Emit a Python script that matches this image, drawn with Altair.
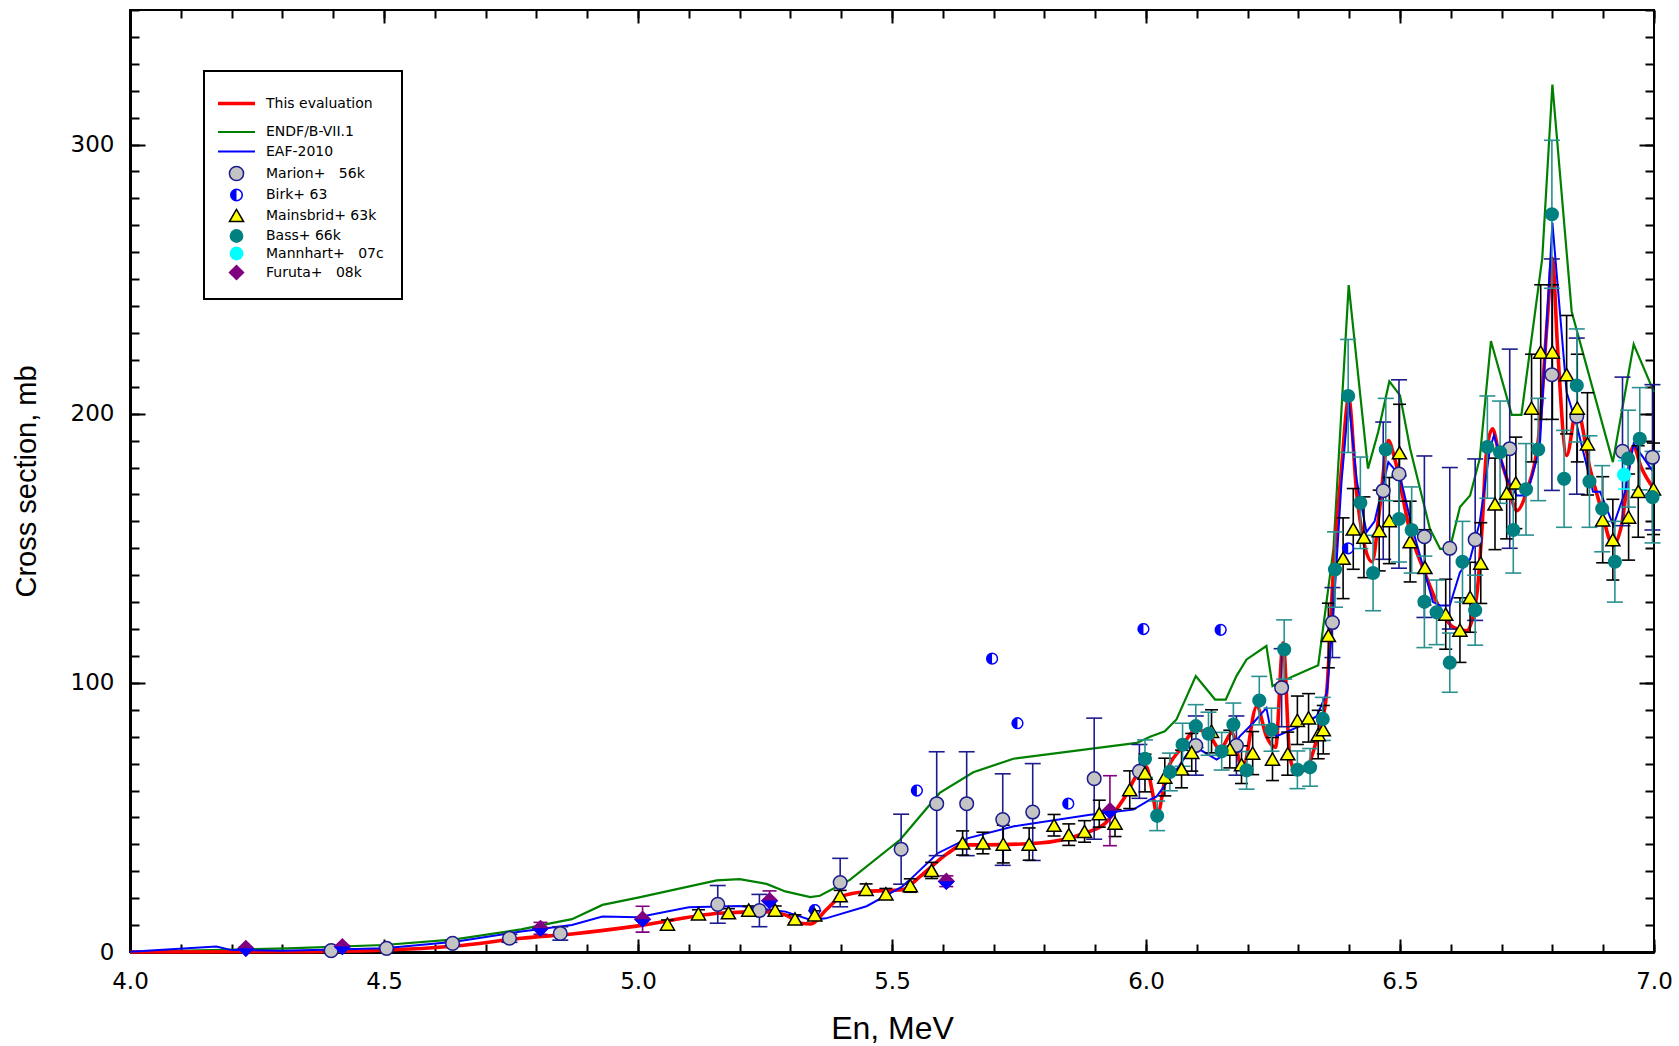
import altair as alt
import pandas as pd

# ---------------- data ----------------
# This evaluation (red curve)
eval_E = [4.00, 4.30, 4.50, 4.64, 4.77, 4.87, 5.00, 5.16, 5.25, 5.29, 5.32, 5.34, 5.37, 5.40, 5.45, 5.52,
          5.555, 5.61, 5.64, 5.68, 5.79, 5.88, 5.92, 5.955, 5.99, 6.00, 6.012, 6.022, 6.04, 6.067, 6.10,
          6.126, 6.146, 6.169, 6.19, 6.218, 6.237, 6.255, 6.27, 6.283, 6.296, 6.315, 6.336, 6.355, 6.368,
          6.385, 6.399, 6.415, 6.445, 6.46, 6.477, 6.49, 6.52, 6.546, 6.579, 6.605, 6.631, 6.651, 6.661,
          6.67, 6.682, 6.695, 6.71, 6.73, 6.749, 6.775, 6.79, 6.80, 6.81, 6.828, 6.848, 6.874, 6.894,
          6.92, 6.936, 6.959, 6.975, 7.00]
eval_S = [0.0, 0.1, 0.7, 2.2, 5.1, 6.7, 9.7, 14.4, 15.0, 13.8, 10.7, 10.4, 15.6, 20.6, 22.5, 23.1,
          28.0, 36.7, 39.8, 39.8, 40.5, 44.2, 47.9, 56.6, 67.8, 69.0, 60.0, 51.0, 66.5, 75.2, 82.6,
          80.2, 75.2, 81.4, 67.7, 91.3, 80.2, 76.0, 114.9, 72.7, 66.5, 68.0, 78.9, 95.0, 138.5,
          180.0, 205.6, 170.0, 145.0, 165.0, 190.0, 183.0, 156.0, 142.3, 127.4, 120.6, 119.3, 132.4, 156.0,
          185.0, 194.4, 185.0, 176.0, 164.0, 170.9, 195.0, 235.0, 257.7, 225.0, 184.5, 201.8, 179.6, 166.0,
          151.0, 158.4, 188.0, 180.0, 172.0]

# ENDF/B-VII.1 (green curve)
endf_E = [4.00, 4.31, 4.50, 4.64, 4.77, 4.83, 4.87, 4.93, 5.00, 5.155, 5.20, 5.253, 5.29, 5.339, 5.358,
          5.417, 5.516, 5.594, 5.66, 5.739, 5.982, 6.008, 6.037, 6.06, 6.098, 6.136, 6.157, 6.178, 6.198,
          6.237, 6.249, 6.29, 6.339, 6.369, 6.399, 6.437, 6.457, 6.479, 6.50, 6.52, 6.559, 6.579, 6.598,
          6.618, 6.638, 6.657, 6.679, 6.72, 6.739, 6.78, 6.80, 6.838, 6.919, 6.96, 7.00]
endf_S = [0.1, 1.35, 2.6, 4.7, 8.4, 10.7, 12.2, 17.5, 20.2, 26.6, 27.1, 25.3, 22.5, 20.4, 20.9,
          26.8, 41.7, 59.1, 66.8, 71.8, 77.7, 80.0, 82.0, 86.4, 102.5, 93.8, 93.8, 102.5, 108.7,
          113.7, 98.8, 102.5, 106.5, 149.8, 247.8, 179.6, 193.2, 212.0, 206.8, 187.0, 157.2, 149.8, 149.8,
          165.3, 169.6, 183.3, 227.0, 199.6, 199.6, 257.7, 322.3, 237.9, 182.0, 225.8, 208.0]

# EAF-2010 (blue curve)
eaf_E = [4.00, 4.17, 4.20, 4.30, 4.50, 4.64, 4.77, 4.87, 4.93, 5.00, 5.10, 5.20, 5.29, 5.34, 5.37,
         5.45, 5.52, 5.535, 5.59, 5.65, 5.74, 5.89, 5.975, 6.008, 6.021, 6.06, 6.087, 6.106, 6.139, 6.159,
         6.185, 6.211, 6.237, 6.244, 6.257, 6.303, 6.336, 6.356, 6.369, 6.385, 6.399, 6.415, 6.434, 6.45,
         6.477, 6.50, 6.523, 6.565, 6.579, 6.598, 6.618, 6.638, 6.657, 6.677, 6.685, 6.71, 6.73, 6.749,
         6.775, 6.80, 6.828, 6.848, 6.88, 6.894, 6.92, 6.943, 6.96, 7.00]
eaf_S = [0.1, 2.0, 0.7, 0.5, 1.35, 3.8, 7.6, 10.0, 13.2, 12.9, 16.6, 17.1, 15.0, 11.9, 12.5,
         17.0, 24.3, 26.8, 36.7, 42.3, 46.7, 51.0, 52.9, 56.6, 57.8, 67.7, 75.2, 75.2, 71.5, 73.9,
         80.2, 85.1, 90.7, 83.9, 80.2, 83.9, 87.6, 96.3, 126.1, 175.0, 205.0, 175.0, 156.0, 160.0,
         182.0, 177.0, 158.4, 130.0, 128.7, 128.7, 141.0, 146.0, 159.7, 187.0, 192.0, 175.8, 169.6, 169.6,
         187.0, 271.0, 208.0, 195.7, 171.0, 171.0, 158.4, 171.0, 188.8, 178.0]

# Marion+ 56k
marion_E = [4.396, 4.505, 4.635, 4.747, 4.847, 5.157, 5.239, 5.398, 5.518, 5.588, 5.647, 5.718, 5.777,
            5.898, 5.987, 6.098, 6.178, 6.267, 6.367, 6.467, 6.498, 6.548, 6.598, 6.648, 6.716, 6.799,
            6.848, 6.938, 6.997]
marion_S = [0.5, 1.35, 3.2, 5.1, 6.9, 17.7, 15.4, 25.8, 38.2, 55.1, 55.1, 49.2, 52.0,
            64.4, 67.1, 76.7, 76.7, 98.2, 122.4, 171.4, 177.6, 154.3, 150.0, 153.2, 187.0, 214.5,
            199.1, 186.0, 183.8]
marion_err = [0.3, 0.5, 0.8, 1.5, 2.5, 7.0, 6.0, 9.0, 13.0, 19.3, 19.3, 17.0, 18.0,
              22.5, 10.0, 11.0, 11.0, 14.5, 13.0, 25.5, 35.0, 30.0, 30.0, 30.0, 37.0, 43.0,
              29.0, 27.6, 27.0]

# Birk+ 63
birk_E = [5.348, 5.549, 5.697, 5.747, 5.847, 5.995, 6.147, 6.398]
birk_S = [15.6, 60.0, 109.0, 85.0, 55.1, 120.0, 119.7, 150.0]

# Mainsbrid+ 63k
mains_E = [5.058, 5.119, 5.178, 5.218, 5.270, 5.309, 5.348, 5.398, 5.449, 5.488, 5.536, 5.578, 5.639,
           5.679, 5.719, 5.770, 5.819, 5.848, 5.879, 5.908, 5.939, 5.968, 5.998, 6.037, 6.070, 6.090,
           6.129, 6.165, 6.188, 6.210, 6.249, 6.279, 6.298, 6.320, 6.339, 6.349, 6.359, 6.388, 6.408,
           6.429, 6.459, 6.479, 6.499, 6.520, 6.549, 6.590, 6.618, 6.638, 6.659, 6.687, 6.710, 6.728,
           6.759, 6.777, 6.800, 6.828, 6.849, 6.869, 6.899, 6.919, 6.950, 6.969, 6.999]
mains_S = [10.4, 14.2, 14.6, 15.6, 15.6, 12.3, 13.8, 20.9, 23.3, 21.6, 24.7, 30.3, 40.5,
           40.5, 40.1, 40.1, 47.1, 43.6, 44.8, 51.4, 47.9, 60.3, 66.5, 65.0, 68.0, 74.2,
           82.0, 75.4, 69.6, 73.9, 71.7, 73.7, 86.1, 87.0, 80.8, 82.6, 117.6, 146.3, 157.2,
           154.1, 156.6, 160.3, 185.5, 152.5, 142.9, 125.5, 119.6, 131.8, 144.5, 166.5, 170.5, 174.3,
           202.1, 222.9, 222.9, 214.5, 202.1, 188.8, 160.6, 153.2, 161.6, 171.1, 172.1]
mains_err = [1.5, 1.5, 1.5, 1.5, 1.5, 1.5, 1.5, 2.0, 2.0, 2.0, 2.5, 3.0, 4.5,
             4.0, 7.0, 6.0, 4.0, 4.0, 4.0, 5.0, 5.0, 7.0, 7.0, 7.0, 7.0, 7.0,
             8.0, 7.0, 7.0, 8.0, 8.0, 8.0, 9.0, 9.0, 9.0, 9.0, 12.0, 15.0, 15.0,
             15.0, 15.0, 16.0, 18.0, 15.0, 14.0, 13.0, 12.0, 13.0, 15.0, 17.0, 17.0, 17.0,
             20.0, 25.0, 25.0, 22.0, 20.0, 19.0, 16.0, 15.0, 16.0, 17.0, 17.0]

# Bass+ 66k
bass_E = [5.998, 6.022, 6.047, 6.072, 6.098, 6.123, 6.149, 6.172, 6.198, 6.223, 6.247, 6.272, 6.298,
          6.323, 6.348, 6.372, 6.398, 6.422, 6.447, 6.472, 6.498, 6.523, 6.548, 6.572, 6.598, 6.623,
          6.648, 6.672, 6.697, 6.723, 6.748, 6.772, 6.799, 6.823, 6.848, 6.873, 6.898, 6.923, 6.949,
          6.972, 6.997]
bass_S = [71.8, 50.6, 66.9, 77.0, 83.9, 81.1, 74.6, 84.5, 67.5, 93.4, 82.6, 112.4, 67.7,
          68.6, 86.6, 142.1, 206.6, 166.9, 140.8, 186.7, 160.9, 156.8, 130.1, 126.2, 107.5, 145.0,
          127.0, 187.6, 185.7, 156.8, 171.9, 186.7, 274.1, 175.8, 210.5, 174.8, 164.7, 145.0, 183.3,
          190.7, 169.0]
bass_err = [7.0, 5.5, 7.0, 8.0, 8.0, 8.0, 7.0, 8.0, 7.0, 9.0, 8.0, 11.0, 7.0,
            7.0, 8.0, 14.0, 21.0, 17.0, 14.0, 19.0, 16.0, 16.0, 17.0, 12.0, 11.0, 15.0,
            13.0, 19.0, 19.0, 16.0, 17.0, 19.0, 27.5, 18.0, 21.0, 17.0, 16.0, 15.0, 18.0,
            19.0, 17.0]

# Mannhart+ 07c
mann_E = [6.941]
mann_S = [177.3]
mann_err = [5.3]

# Furuta+ 08k
furuta_E = [4.228, 4.418, 4.808, 5.009, 5.259, 5.607, 5.929]
furuta_S = [1.35, 2.0, 8.8, 12.2, 19.1, 26.3, 52.5]
furuta_err = [0.4, 0.5, 2.2, 4.8, 3.6, 2.0, 13.0]

# legend entries and axis ticks
series_names = ["This evaluation", "ENDF/B-VII.1", "EAF-2010",
                "Marion+\u00a0\u00a0\u00a056k", "Birk+ 63", "Mainsbrid+ 63k", "Bass+ 66k",
                "Mannhart+\u00a0\u00a0\u00a007c", "Furuta+\u00a0\u00a0\u00a008k"]
x_major = [4.0, 4.5, 5.0, 5.5, 6.0, 6.5, 7.0]
x_minor = [4.0, 4.1, 4.2, 4.3, 4.4, 4.5, 4.6, 4.7, 4.8, 4.9, 5.0, 5.1, 5.2, 5.3, 5.4, 5.5,
           5.6, 5.7, 5.8, 5.9, 6.0, 6.1, 6.2, 6.3, 6.4, 6.5, 6.6, 6.7, 6.8, 6.9, 7.0]
y_major = [0, 100, 200, 300]
y_minor = [0, 10, 20, 30, 40, 50, 60, 70, 80, 90, 100, 110, 120, 130, 140, 150, 160, 170, 180,
           190, 200, 210, 220, 230, 240, 250, 260, 270, 280, 290, 300, 310, 320, 330, 340, 350]

# ---------------- styling ----------------
RED, GREEN, BLUE = "#ff0000", "#008000", "#0000ff"
GRAY_FILL, NAVY = "#c4c4c4", "#1c1c8e"
YELLOW, TEAL, TEAL_BAR = "#ffff00", "#008080", "#2a9090"
CYAN, PURPLE = "#00ffff", "#800080"

BIRK_SHAPE = ("M0,-1 L-0.383,-0.924 L-0.707,-0.707 L-0.924,-0.383 L-1,0 L-0.924,0.383 L-0.707,0.707 "
              "L-0.383,0.924 L0,1 Z "
              "M0,-1 L0.383,-0.924 L0.707,-0.707 L0.924,-0.383 L1,0 L0.924,0.383 L0.707,0.707 L0.383,0.924 "
              "L0,1 L0,0.76 L0.291,0.702 L0.537,0.537 L0.702,0.291 L0.76,0 L0.702,-0.291 L0.537,-0.537 "
              "L0.291,-0.702 L0,-0.76 Z")
HALF_DIAMOND = "M-1,0 L1,0 L0,1 Z"
# legend line samples (long horizontal strokes); the first one carries extra space below it
LINE_A = "M0,0.75 M-1.48,0 L1.48,0"
LINE_B = "M-2.617,0 L2.617,0"

XS = alt.Scale(domain=[4.0, 7.0], nice=False, zero=False)
YS = alt.Scale(domain=[0, 350], nice=False, zero=False)

TICK_FONT = "DejaVu Sans"
TITLE_FONT = "Liberation Sans"


def xenc(field, axis=None):
    return alt.X(field, type="quantitative", scale=XS, axis=axis)


def yenc(field, axis=None):
    return alt.Y(field, type="quantitative", scale=YS, axis=axis)


def tick_axis(orient, values, size):
    return alt.Axis(orient=orient, values=values, ticks=True, tickSize=size, tickWidth=2,
                    tickColor="black", labels=False, domain=False, grid=False, title=None,
                    offset=-size)


ax_x_lab = alt.Axis(orient="bottom", values=x_major, format=".1f", ticks=False, domain=True,
                    domainColor="black", domainWidth=3, labelFont=TICK_FONT, labelFontSize=23,
                    labelColor="black", labelPadding=18, labelFlush=False, labelOverlap=False,
                    grid=False, title="En, MeV", titleFont=TITLE_FONT, titleFontSize=32,
                    titleFontWeight="normal", titleColor="black", titlePadding=20)
ax_y_lab = alt.Axis(orient="left", values=y_major, format="d", ticks=False, domain=True,
                    domainColor="black", domainWidth=3, labelFont=TICK_FONT, labelFontSize=23,
                    labelColor="black", labelPadding=16, labelFlush=False, labelOverlap=False,
                    grid=False, title="Cross section, mb", titleFont=TITLE_FONT,
                    titleFontSize=29, titleFontWeight="normal", titleColor="black", titlePadding=29)

# ---------------- frames ----------------
red_df = pd.DataFrame({"E": eval_E, "S": eval_S})
green_df = pd.DataFrame({"E": endf_E, "S": endf_S})
blue_df = pd.DataFrame({"E": eaf_E, "S": eaf_S})


def err_frames(E, S, err):
    d = pd.DataFrame({"E": E, "S": S, "err": err})
    d["lo"] = d["S"] - d["err"]
    d["hi"] = d["S"] + d["err"]
    caps = pd.concat([pd.DataFrame({"E": d["E"], "Y": d["lo"]}),
                      pd.DataFrame({"E": d["E"], "Y": d["hi"]})], ignore_index=True)
    return d, caps


marion_df, marion_caps = err_frames(marion_E, marion_S, marion_err)
mains_df, mains_caps = err_frames(mains_E, mains_S, mains_err)
bass_df, bass_caps = err_frames(bass_E, bass_S, bass_err)
mann_df, mann_caps = err_frames(mann_E, mann_S, mann_err)
furuta_df, furuta_caps = err_frames(furuta_E, furuta_S, furuta_err)
birk_df = pd.DataFrame({"E": birk_E, "S": birk_S})

# ---------------- layers ----------------
l_green = alt.Chart(green_df).mark_line(color=GREEN, strokeWidth=2.2).encode(
    x=xenc("E", tick_axis("bottom", x_major, 13)), y=yenc("S", tick_axis("left", y_major, 15)))
l_red = alt.Chart(red_df).mark_line(color=RED, strokeWidth=3.6, interpolate="monotone").encode(
    x=xenc("E", ax_x_lab), y=yenc("S", ax_y_lab))
l_blue = alt.Chart(blue_df).mark_line(color=BLUE, strokeWidth=2).encode(
    x=xenc("E", tick_axis("bottom", x_minor, 8)), y=yenc("S", tick_axis("left", y_minor, 9)))


def err_layers(d, caps, color, cap, xa=None, ya=None):
    rules = alt.Chart(d).mark_rule(color=color, strokeWidth=1.6).encode(
        x=xenc("E", xa), y=yenc("lo", ya), y2="hi")
    ticks = alt.Chart(caps).mark_tick(color=color, orient="horizontal", size=cap,
                                      thickness=1.6, opacity=1).encode(
        x=xenc("E"), y=yenc("Y"))
    return [rules, ticks]


errs = []
errs += err_layers(marion_df, marion_caps, NAVY, 16,
                   tick_axis("top", x_major, 13), tick_axis("right", y_major, 15))
errs += err_layers(mains_df, mains_caps, "black", 13,
                   tick_axis("top", x_minor, 8), tick_axis("right", y_minor, 9))
errs += err_layers(bass_df, bass_caps, TEAL_BAR, 16)
errs += err_layers(mann_df, mann_caps, CYAN, 12)
errs += err_layers(furuta_df, furuta_caps, PURPLE, 14)


def pts(d, shape, fill, size, stroke=None, sw=0):
    kw = dict(shape=shape, filled=True, fill=fill, size=size, opacity=1, strokeWidth=sw)
    if stroke is not None:
        kw["stroke"] = stroke
    return alt.Chart(d).mark_point(**kw).encode(x=xenc("E"), y=yenc("S"))


points = [
    pts(marion_df, "circle", GRAY_FILL, 185, NAVY, 1.5),
    pts(birk_df, BIRK_SHAPE, BLUE, 150),
    pts(mains_df, "triangle-up", YELLOW, 200, "black", 1.5),
    pts(bass_df, "circle", TEAL, 200),
    pts(mann_df, "circle", CYAN, 200),
    pts(furuta_df, "diamond", PURPLE, 300),
    pts(furuta_df, HALF_DIAMOND, BLUE, 300),
]

# ---------------- legend (scale-driven, no marks drawn) ----------------
leg_df = pd.DataFrame({"series": series_names})
LEG = alt.Legend(orient="none", legendX=74, legendY=61, title=None, strokeColor="black",
                 fillColor="white", padding=18, labelFont="DejaVu Sans", labelFontSize=14,
                 labelColor="black", labelOffset=15, rowPadding=3.5, labelLimit=300)
shape_range = [LINE_A, LINE_B, LINE_B, "circle", BIRK_SHAPE, "triangle-up", "circle", "circle",
               "diamond"]
fill_range = [RED, GREEN, BLUE, GRAY_FILL, BLUE, YELLOW, TEAL, CYAN, PURPLE]
stroke_range = [RED, GREEN, BLUE, NAVY, BLUE, "black", TEAL, CYAN, PURPLE]
size_range = [625, 200, 200, 200, 170, 200, 190, 190, 260]
sw_range = [3.5, 2.2, 2, 1.5, 0, 1.5, 0, 0, 0]

legend_layer = alt.Chart(leg_df).transform_filter("false").mark_point(filled=True, opacity=1).encode(
    shape=alt.Shape("series:N", scale=alt.Scale(domain=series_names, range=shape_range), legend=LEG),
    fill=alt.Fill("series:N", scale=alt.Scale(domain=series_names, range=fill_range), legend=LEG),
    stroke=alt.Stroke("series:N", scale=alt.Scale(domain=series_names, range=stroke_range), legend=LEG),
    size=alt.Size("series:N", scale=alt.Scale(type="ordinal", domain=series_names, range=size_range),
                  legend=LEG),
    strokeWidth=alt.StrokeWidth("series:N",
                                scale=alt.Scale(type="ordinal", domain=series_names, range=sw_range),
                                legend=LEG),
)

chart = alt.layer(l_green, l_red, l_blue, *errs, *points, legend_layer).resolve_axis(
    x="independent", y="independent"
).properties(
    width=1524, height=942, autosize=alt.AutoSizeParams(type="none"),
    padding={"left": 130, "top": 10, "right": 25, "bottom": 94},
    background="white",
).configure_view(stroke="black", strokeWidth=2).configure_legend(strokeWidth=2)

chart.save("out.html", embed_options={"renderer": "svg", "actions": False})
